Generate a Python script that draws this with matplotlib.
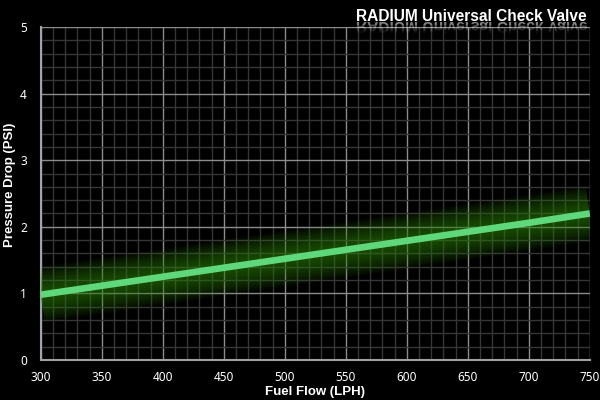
#!/usr/bin/env python3

import numpy as np
import matplotlib
matplotlib.use('Agg')
import matplotlib.pyplot as plt
from matplotlib.ticker import MultipleLocator
from matplotlib.textpath import TextPath
from matplotlib.patches import PathPatch, Rectangle
from matplotlib.font_manager import FontProperties
from matplotlib.transforms import Affine2D, IdentityTransform

TITLE = 'RADIUM Universal Check Valve'
X_LABEL = 'Fuel Flow (LPH)'
Y_LABEL = 'Pressure Drop (PSI)'

FLOW = [300, 400, 500, 600, 700, 750]
PRESSURE = [0.98, 1.25, 1.52, 1.79, 2.06, 2.2]

X_TICKS = [300, 350, 400, 450, 500, 550, 600, 650, 700, 750]
Y_TICKS = [0, 1, 2, 3, 4, 5]

LINE_COLOR = '#5fd87c'
GLOW_COLOR = '#2f8010'


def main():
    fig = plt.figure(figsize=(6, 4), dpi=100, facecolor='black')
    ax = fig.add_axes([0.068, 0.1, 0.915, 0.8325], facecolor='black')

    ax.set_xlim(300, 750)
    ax.set_ylim(0, 5)
    ax.set_xticks(X_TICKS)
    ax.set_yticks(Y_TICKS)
    ax.xaxis.set_minor_locator(MultipleLocator(10))
    ax.yaxis.set_minor_locator(MultipleLocator(0.2))

    ax.grid(which='minor', color='#363636', lw=1.0)
    ax.grid(which='major', color='#8c8c8c', lw=1.0)
    ax.set_axisbelow(True)

    for side in ['top', 'right']:
        ax.spines[side].set_visible(False)
    ax.spines['left'].set_color('#a0a4ac')
    ax.spines['bottom'].set_color('#a0a0a0')
    ax.spines['left'].set_linewidth(1.5)
    ax.spines['bottom'].set_linewidth(1.5)

    ax.tick_params(which='both', length=0, colors='white', labelsize=8.5)
    ax.tick_params(axis='x', pad=8)
    ax.tick_params(axis='y', pad=10)
    for lab in ax.get_xticklabels() + ax.get_yticklabels():
        lab.set_family('Noto Sans')

    ax.set_xlabel(X_LABEL, color='white', fontsize=9.5, fontweight='bold',
                  family='Liberation Sans')
    ax.set_ylabel(Y_LABEL, color='white', fontsize=9.5, fontweight='bold',
                  family='Liberation Sans')
    ax.xaxis.set_label_coords(0.5, -0.078)
    ax.yaxis.set_label_coords(-0.046, 0.525)

    # glow
    for width in np.linspace(40, 8, 16):
        ax.plot(FLOW, PRESSURE, color=GLOW_COLOR, lw=width, alpha=0.055,
                solid_capstyle='butt', zorder=3)
    ax.plot(FLOW, PRESSURE, color=LINE_COLOR, lw=4.8, solid_capstyle='butt', zorder=4)

    # title + reflection
    fig.text(0.978, 0.9475, TITLE, color='white', fontsize=11.2, fontweight='bold',
             family='Liberation Sans', ha='right', va='baseline')

    prop = FontProperties(family='Liberation Sans', weight='bold')
    path = TextPath((0, 0), TITLE, size=11.2 * 100 / 72, prop=prop)
    ext = path.get_extents()
    x_right, base = 587, 378
    tr = Affine2D().translate(-ext.x1, 0).scale(1, -1).translate(x_right, base)
    strips = [(0, 3, 0.5), (3, 6, 0.32), (6, 9, 0.16), (9, 12, 0.06)]
    for top, bot, alpha in strips:
        patch = PathPatch(tr.transform_path(path), facecolor='white', edgecolor='none',
                          alpha=alpha, transform=IdentityTransform())
        clip = Rectangle((x_right - ext.width - 5, base - bot), ext.width + 10, bot - top,
                         transform=IdentityTransform())
        fig.patches.append(patch)
        patch.set_clip_path(clip)

    fig.savefig('out.png', dpi=100, facecolor='black')


if __name__ == '__main__':
    main()
